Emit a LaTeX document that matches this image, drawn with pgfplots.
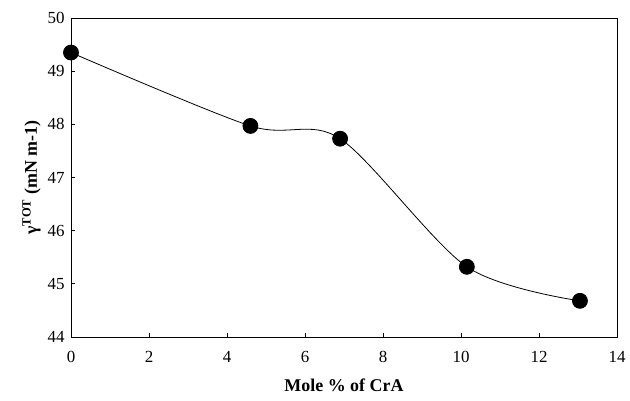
\documentclass[border=0pt]{standalone}
\usepackage{pgfplots}
\pgfplotsset{compat=1.18}
\usepackage{fontspec}
\setmainfont{Liberation Serif}
\begin{document}
\begin{tikzpicture}
  \begin{axis}[
    scale only axis,
    width=546bp, height=319bp,
    xmin=0, xmax=14, ymin=44, ymax=50,
    xtick={0,2,...,14}, ytick={44,45,...,50},
    tick pos=left, tick align=inside,
    major tick length=4bp,
    axis line style={line width=0.8pt},
    tick style={line width=0.8pt, black},
    /pgf/number format/assume math mode=true,
    tick label style={font=\fontsize{17}{19}\selectfont},
    xticklabel style={yshift=-11bp},
    yticklabel style={xshift=-3bp},
    xlabel={\bfseries Mole \% of CrA},
    ylabel={\bfseries γ\textsuperscript{TOT} (mN m-1)},
    label style={font=\fontsize{18}{20}\selectfont},
    xlabel style={yshift=-9bp},
    ylabel style={yshift=0bp},
  ]
    \addplot[black, line width=0.8pt, smooth, mark=*, mark size=7.5bp,
      mark options={fill=black}] coordinates {
      (0, 49.35) (4.6, 47.97) (6.9, 47.73) (10.15, 45.32) (13.05, 44.68)
    };
  \end{axis}
  \path (current axis.south west) ++(-71bp,-64bp);
  \path (current axis.north east) ++(13bp,18bp);
\end{tikzpicture}
\end{document}
